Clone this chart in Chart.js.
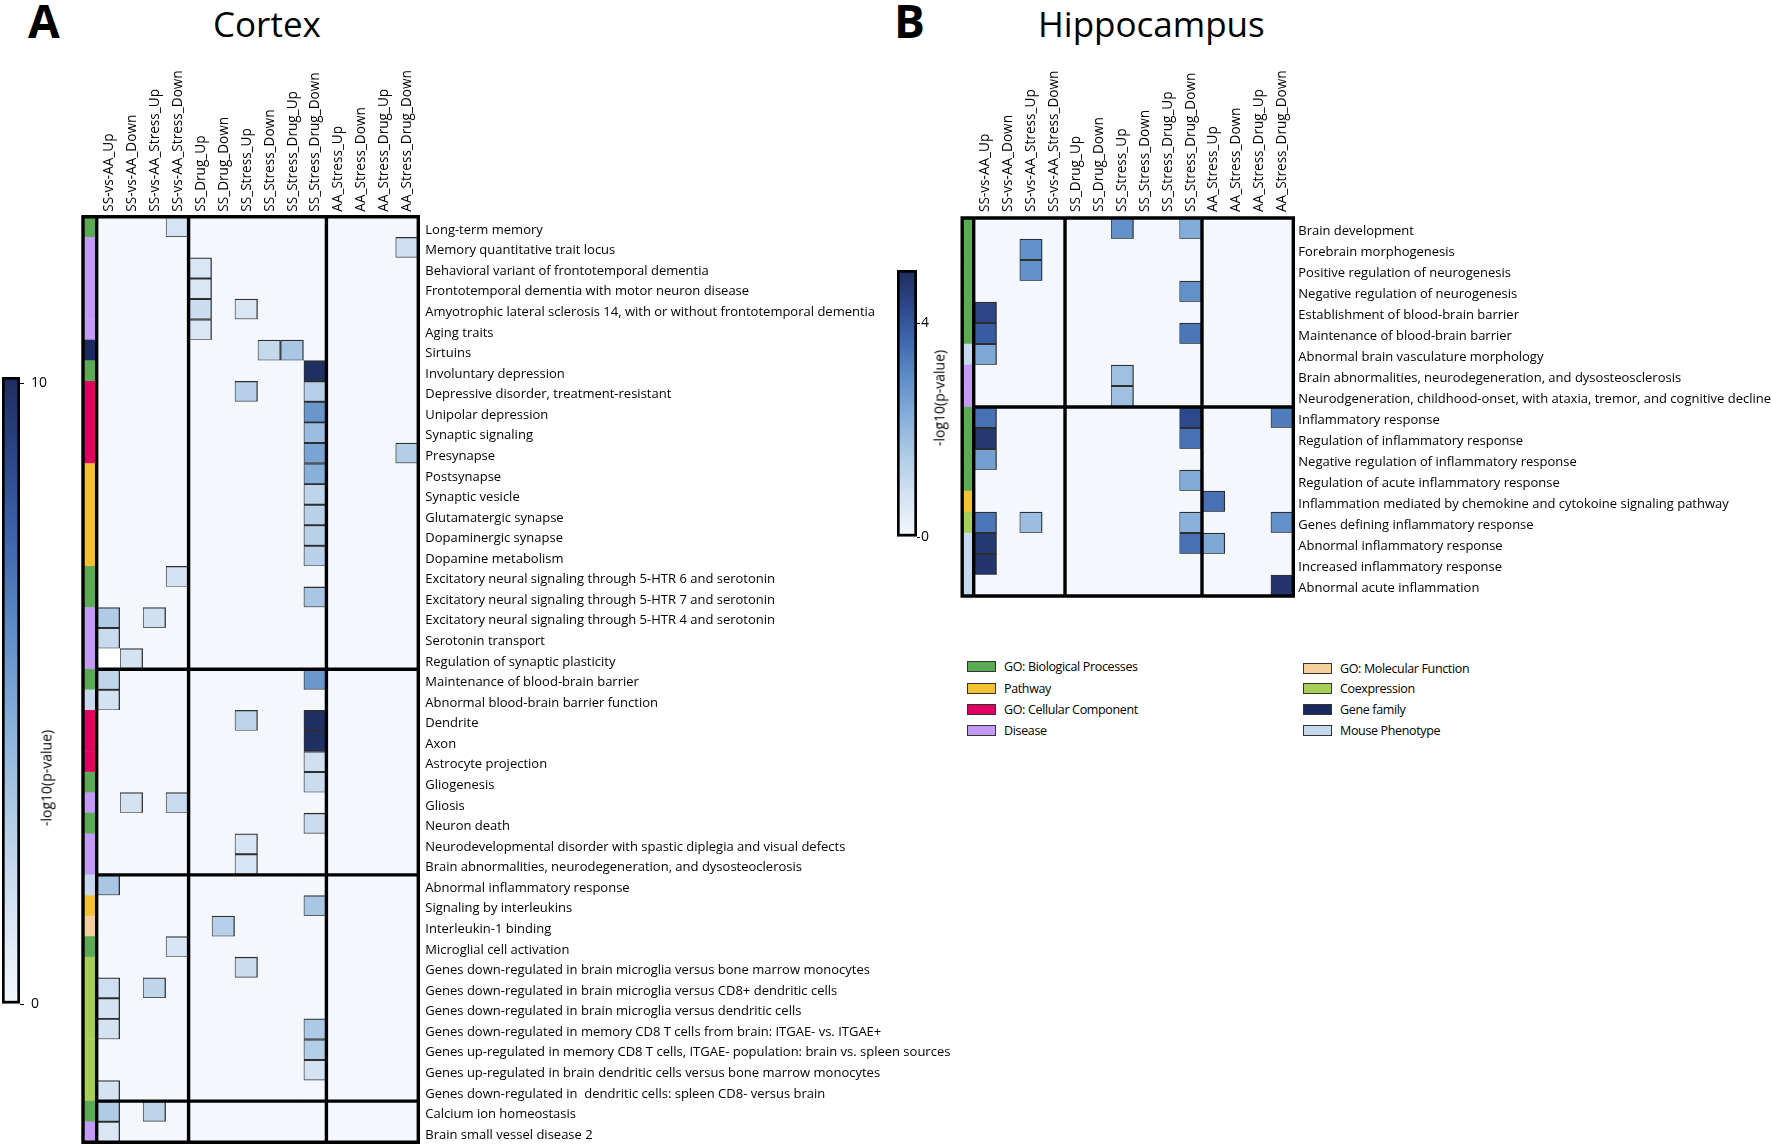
<!DOCTYPE html>
<html><head><meta charset="utf-8">
<script src="https://cdn.jsdelivr.net/npm/chart.js@4.4.1/dist/chart.umd.min.js"></script>
<style>
html,body{margin:0;padding:0;background:#fff;width:1772px;height:1147px;overflow:hidden;font-family:'Open Sans',sans-serif;color:#000;}
.abs{position:absolute;white-space:nowrap;}
canvas{position:absolute;}
.lg{position:absolute;height:16px;display:flex;align-items:center;font-size:12.5px;letter-spacing:-0.35px;white-space:nowrap;}
.lg span.box{display:inline-block;width:27px;height:9px;border:1.5px solid #333;margin-right:8px;}
.cbt{position:absolute;font-size:14px;white-space:nowrap;transform:translate(-50%,-50%) rotate(-90deg);}
</style></head><body>
<div class="abs" style="left:28px;top:-3px;font-size:46px;font-weight:700;line-height:1">A</div>
<div class="abs" style="left:213px;top:6px;font-size:35px;line-height:1">Cortex</div>
<div class="abs" style="left:894px;top:-3px;font-size:46px;font-weight:700;line-height:1">B</div>
<div class="abs" style="left:1038px;top:6px;font-size:35px;line-height:1">Hippocampus</div>

<canvas id="cortex" width="960" height="1147" style="left:0;top:0"></canvas>
<canvas id="hippo" width="832" height="640" style="left:940px;top:0"></canvas>
<canvas id="cbCortex" width="90" height="660" style="left:0;top:360px"></canvas>
<canvas id="cbHippo" width="80" height="310" style="left:880px;top:250px"></canvas>
<div class="cbt" style="left:46px;top:778px">-log10(p-value)</div>
<div class="cbt" style="left:939px;top:398px">-log10(p-value)</div>
<div id="legend"></div>

<script>
// ---------------- DATA ----------------
const columns = ['SS-vs-AA_Up','SS-vs-AA_Down','SS-vs-AA_Stress_Up','SS-vs-AA_Stress_Down',
  'SS_Drug_Up','SS_Drug_Down','SS_Stress_Up','SS_Stress_Down','SS_Stress_Drug_Up','SS_Stress_Drug_Down',
  'AA_Stress_Up','AA_Stress_Down','AA_Stress_Drug_Up','AA_Stress_Drug_Down'];

const categoryKeys   = ['BP','PW','CC','DIS','MF','CO','GF','MP'];
const categoryNames  = ['GO: Biological Processes','Pathway','GO: Cellular Component','Disease',
                        'GO: Molecular Function','Coexpression','Gene family','Mouse Phenotype'];
const categoryColors = ['#5aab53','#f2c230','#e0005f','#c39bf6','#f6cf9f','#a7cf57','#1b2a5e','#c6d9ef'];

const cortexTerms = [
 'Long-term memory','Memory quantitative trait locus','Behavioral variant of frontotemporal dementia',
 'Frontotemporal dementia with motor neuron disease','Amyotrophic lateral sclerosis 14, with or without frontotemporal dementia',
 'Aging traits','Sirtuins','Involuntary depression','Depressive disorder, treatment-resistant','Unipolar depression',
 'Synaptic signaling','Presynapse','Postsynapse','Synaptic vesicle','Glutamatergic synapse','Dopaminergic synapse',
 'Dopamine metabolism','Excitatory neural signaling through 5-HTR 6 and serotonin',
 'Excitatory neural signaling through 5-HTR 7 and serotonin','Excitatory neural signaling through 5-HTR 4 and serotonin',
 'Serotonin transport','Regulation of synaptic plasticity','Maintenance of blood-brain barrier',
 'Abnormal blood-brain barrier function','Dendrite','Axon','Astrocyte projection','Gliogenesis','Gliosis','Neuron death',
 'Neurodevelopmental disorder with spastic diplegia and visual defects',
 'Brain abnormalities, neurodegeneration, and dysosteoclerosis','Abnormal inflammatory response',
 'Signaling by interleukins','Interleukin-1 binding','Microglial cell activation',
 'Genes down-regulated in brain microglia versus bone marrow monocytes',
 'Genes down-regulated in brain microglia versus CD8+ dendritic cells',
 'Genes down-regulated in brain microglia versus dendritic cells',
 'Genes down-regulated in memory CD8 T cells from brain: ITGAE- vs. ITGAE+',
 'Genes up-regulated in memory CD8 T cells, ITGAE- population: brain vs. spleen sources',
 'Genes up-regulated in brain dendritic cells versus bone marrow monocytes',
 'Genes down-regulated in  dendritic cells: spleen CD8- versus brain',
 'Calcium ion homeostasis','Brain small vessel disease 2'];

const cortexCategory = ['BP','DIS','DIS','DIS','DIS','DIS','GF','BP','CC','CC','CC','CC',
 'PW','PW','PW','PW','PW','BP','BP','DIS','DIS','DIS','BP','MP','CC','CC','CC','BP','DIS','BP',
 'DIS','DIS','MP','PW','MF','BP','CO','CO','CO','CO','CO','CO','CO','BP','DIS'];

// -log10(p-value), columns in the order of `columns`; null = not tested (white)
const cortexValues = [
 [0,0,0,1.5,0,0,0,0,0,0,0,0,0,0],
 [0,0,0,0,0,0,0,0,0,0,0,0,0,1.8],
 [0,0,0,0,1.3,0,0,0,0,0,0,0,0,0],
 [0,0,0,0,1.3,0,0,0,0,0,0,0,0,0],
 [0,0,0,0,1.9,0,1.3,0,0,0,0,0,0,0],
 [0,0,0,0,1.3,0,0,0,0,0,0,0,0,0],
 [0,0,0,0,0,0,0,2.2,3.3,0,0,0,0,0],
 [0,0,0,0,0,0,0,0,0,10,0,0,0,0],
 [0,0,0,0,0,0,2.8,0,0,2.8,0,0,0,0],
 [0,0,0,0,0,0,0,0,0,5.6,0,0,0,0],
 [0,0,0,0,0,0,0,0,0,3.8,0,0,0,0],
 [0,0,0,0,0,0,0,0,0,5.0,0,0,0,2.9],
 [0,0,0,0,0,0,0,0,0,4.5,0,0,0,0],
 [0,0,0,0,0,0,0,0,0,2.5,0,0,0,0],
 [0,0,0,0,0,0,0,0,0,2.7,0,0,0,0],
 [0,0,0,0,0,0,0,0,0,2.7,0,0,0,0],
 [0,0,0,0,0,0,0,0,0,2.7,0,0,0,0],
 [0,0,0,1.6,0,0,0,0,0,0,0,0,0,0],
 [0,0,0,0,0,0,0,0,0,3.3,0,0,0,0],
 [3.1,0,1.7,0,0,0,0,0,0,0,0,0,0,0],
 [2.1,0,0,0,0,0,0,0,0,0,0,0,0,0],
 [null,1.6,0,0,0,0,0,0,0,0,0,0,0,0],
 [2.4,0,0,0,0,0,0,0,0,5.5,0,0,0,0],
 [1.6,0,0,0,0,0,0,0,0,0,0,0,0,0],
 [0,0,0,0,0,0,2.6,0,0,10,0,0,0,0],
 [0,0,0,0,0,0,0,0,0,10,0,0,0,0],
 [0,0,0,0,0,0,0,0,0,1.7,0,0,0,0],
 [0,0,0,0,0,0,0,0,0,2.0,0,0,0,0],
 [0,1.6,0,2.1,0,0,0,0,0,0,0,0,0,0],
 [0,0,0,0,0,0,0,0,0,2.0,0,0,0,0],
 [0,0,0,0,0,0,1.4,0,0,0,0,0,0,0],
 [0,0,0,0,0,0,1.4,0,0,0,0,0,0,0],
 [3.3,0,0,0,0,0,0,0,0,0,0,0,0,0],
 [0,0,0,0,0,0,0,0,0,3.3,0,0,0,0],
 [0,0,0,0,0,2.8,0,0,0,0,0,0,0,0],
 [0,0,0,1.4,0,0,0,0,0,0,0,0,0,0],
 [0,0,0,0,0,0,1.9,0,0,0,0,0,0,0],
 [1.8,0,2.4,0,0,0,0,0,0,0,0,0,0,0],
 [1.6,0,0,0,0,0,0,0,0,0,0,0,0,0],
 [1.6,0,0,0,0,0,0,0,0,3.2,0,0,0,0],
 [0,0,0,0,0,0,0,0,0,2.9,0,0,0,0],
 [0,0,0,0,0,0,0,0,0,1.6,0,0,0,0],
 [1.6,0,0,0,0,0,0,0,0,0,0,0,0,0],
 [3.1,0,2.6,0,0,0,0,0,0,0,0,0,0,0],
 [1.3,0,0,0,0,0,0,0,0,0,0,0,0,0]];
const cortexGroupEnds = [22, 32, 43];   // rows after which a thick separator is drawn
const cortexMax = 10.1;
const cortexBarTicks = [0, 10];

const hippoTerms = ['Brain development','Forebrain morphogenesis','Positive regulation of neurogenesis',
 'Negative regulation of neurogenesis','Establishment of blood-brain barrier','Maintenance of blood-brain barrier',
 'Abnormal brain vasculature morphology','Brain abnormalities, neurodegeneration, and dysosteosclerosis',
 'Neurodgeneration, childhood-onset, with ataxia, tremor, and cognitive decline','Inflammatory response',
 'Regulation of inflammatory response','Negative regulation of inflammatory response',
 'Regulation of acute inflammatory response','Inflammation mediated by chemokine and cytokoine signaling pathway',
 'Genes defining inflammatory response','Abnormal inflammatory response','Increased inflammatory response',
 'Abnormal acute inflammation'];
const hippoCategory = ['BP','BP','BP','BP','BP','BP','MP','DIS','DIS','BP','BP','BP','BP','PW','CO','MP','MP','MP'];
const hippoValues = [
 [0,0,0,0,0,0,2.9,0,0,2.3,0,0,0,0],
 [0,0,2.9,0,0,0,0,0,0,0,0,0,0,0],
 [0,0,2.9,0,0,0,0,0,0,0,0,0,0,0],
 [0,0,0,0,0,0,0,0,0,2.9,0,0,0,0],
 [4.4,0,0,0,0,0,0,0,0,0,0,0,0,0],
 [3.9,0,0,0,0,0,0,0,0,3.4,0,0,0,0],
 [2.4,0,0,0,0,0,0,0,0,0,0,0,0,0],
 [0,0,0,0,0,0,1.8,0,0,0,0,0,0,0],
 [0,0,0,0,0,0,1.8,0,0,0,0,0,0,0],
 [3.5,0,0,0,0,0,0,0,0,4.3,0,0,0,3.3],
 [4.75,0,0,0,0,0,0,0,0,3.5,0,0,0,0],
 [2.6,0,0,0,0,0,0,0,0,0,0,0,0,0],
 [0,0,0,0,0,0,0,0,0,2.35,0,0,0,0],
 [0,0,0,0,0,0,0,0,0,0,3.5,0,0,0],
 [3.4,0,1.85,0,0,0,0,0,0,2.2,0,0,0,2.9],
 [4.7,0,0,0,0,0,0,0,0,3.5,2.4,0,0,0],
 [4.8,0,0,0,0,0,0,0,0,0,0,0,0,0],
 [0,0,0,0,0,0,0,0,0,0,0,0,0,4.8]];
const hippoGroupEnds = [9];
const hippoMax = 5;
const hippoBarTicks = [0, 4];

const columnGroupEnds = [4, 10];

// ---------------- STYLE HELPERS ----------------
const BG = '#f4f8fd';
const rampStops = [[0,'#f4f8fd'],[0.15,'#d6e3f3'],[0.3,'#b1cce6'],[0.45,'#86afda'],
                   [0.6,'#5d8cc6'],[0.75,'#3c63ab'],[0.9,'#28407f'],[1,'#1f2d5f']];
function hex2rgb(h){return [1,3,5].map(i=>parseInt(h.substr(i,2),16));}
function rampColor(f){
  f=Math.max(0,Math.min(1,f));
  for(let i=1;i<rampStops.length;i++){
    if(f<=rampStops[i][0]){
      const [f0,c0]=rampStops[i-1],[f1,c1]=rampStops[i];
      const t=(f-f0)/(f1-f0), a=hex2rgb(c0), b=hex2rgb(c1);
      return 'rgb('+a.map((v,k)=>Math.round(v+(b[k]-v)*t)).join(',')+')';
    }
  }
  return rampStops[rampStops.length-1][1];
}
const catColor = k => categoryColors[categoryKeys.indexOf(k)];

Chart.defaults.font.family = "'Open Sans', sans-serif";
Chart.defaults.color = '#000';

const framePlugin = {
  id: 'frame',
  afterDatasetsDraw(chart, args, o) {
    const {ctx, chartArea: ca, scales: {x, y}} = chart;
    const n = chart.data.labels.length;
    ctx.save();
    ctx.strokeStyle = '#000'; ctx.lineWidth = o.lw; ctx.lineCap = 'square';
    const x0 = x.getPixelForValue(0), x14 = x.getPixelForValue(columns.length);
    const yt = y.getPixelForValue(-0.5), yb = y.getPixelForValue(n - 0.5);
    ctx.beginPath();
    ctx.rect(ca.left, yt, x14 - ca.left, yb - yt);
    ctx.moveTo(x0, yt); ctx.lineTo(x0, yb);
    columnGroupEnds.forEach(c => { const px = x.getPixelForValue(c); ctx.moveTo(px, yt); ctx.lineTo(px, yb); });
    o.rows.forEach(r => { const py = y.getPixelForValue(r - 0.5); ctx.moveTo(x0, py); ctx.lineTo(x14, py); });
    ctx.stroke();
    ctx.restore();
  }
};

function zeroPad(s) { s.paddingTop = 0; s.paddingBottom = 0; s.paddingLeft = 0; s.paddingRight = 0; }

function heatmap(id, cfg) {
  const datasets = [{
    label: 'category',
    data: cfg.terms.map(() => [cfg.stripFrom, cfg.stripTo]),
    backgroundColor: cfg.cats.map(catColor),
    borderWidth: 0, grouped: false, barPercentage: 1, categoryPercentage: 1
  }];
  columns.forEach((col, c) => {
    datasets.push({
      label: col,
      data: cfg.terms.map(() => [c, c + 1]),
      backgroundColor: cfg.values.map(r => r[c] === null ? '#ffffff' : (r[c] > 0 ? rampColor(r[c] / cfg.vmax) : BG)),
      borderColor: '#2e2e2e',
      borderWidth: cfg.values.map(r => (r[c] > 0 ? 1.3 : 0)),
      borderSkipped: false, grouped: false, barPercentage: 1, categoryPercentage: 1
    });
  });
  return new Chart(document.getElementById(id), {
    type: 'bar',
    data: { labels: cfg.terms, datasets },
    options: {
      indexAxis: 'y', responsive: false, animation: false, events: [],
      layout: { padding: cfg.padding },
      plugins: { legend: { display: false }, tooltip: { enabled: false }, frame: { lw: 3.4, rows: cfg.groupEnds } },
      scales: {
        x: {
          type: 'linear', position: 'top', min: cfg.xMin, max: columns.length,
          grid: { display: false, drawTicks: false }, border: { display: false },
          afterBuildTicks: s => { s.ticks = columns.map((_, i) => ({ value: i + 0.5 })); },
          afterFit: s => { s.height = cfg.topH; zeroPad(s); },
          ticks: { autoSkip: false, minRotation: 90, maxRotation: 90, padding: cfg.colPad,
                   labelOffset: cfg.colOffset, font: { size: 13.6 }, color: '#000',
                   callback: (v, i) => columns[i] }
        },
        y: {
          type: 'category', position: 'right', offset: true,
          grid: { display: false, drawTicks: false }, border: { display: false },
          afterFit: s => { s.width = cfg.rightW; zeroPad(s); },
          ticks: { autoSkip: false, padding: cfg.rowPad, labelOffset: cfg.rowOffset,
                   font: { size: 13 }, color: '#000' }
        }
      }
    },
    plugins: [framePlugin]
  });
}

heatmap('cortex', {
  terms: cortexTerms, cats: cortexCategory, values: cortexValues, vmax: cortexMax, groupEnds: cortexGroupEnds,
  xMin: -0.596, stripFrom: -0.55, stripTo: -0.07,
  padding: { left: 83, top: 60, right: 0, bottom: 4.7 }, topH: 156.7, rightW: 541.7,
  colPad: 5, colOffset: 17, rowPad: 7, rowOffset: 3
});
heatmap('hippo', {
  terms: hippoTerms, cats: hippoCategory, values: hippoValues, vmax: hippoMax, groupEnds: hippoGroupEnds,
  xMin: -0.504, stripFrom: -0.43, stripTo: -0.09,
  padding: { left: 22.2, top: 60, right: 0, bottom: 44 }, topH: 158, rightW: 478.7,
  colPad: 6, colOffset: 16.5, rowPad: 5, rowOffset: 2.5
});

function colorbar(id, vmax, ticks, pad, rightW, tickLen, tickPad) {
  new Chart(document.getElementById(id), {
    type: 'bar',
    data: { labels: [''], datasets: [{
      data: [[0, vmax]],
      backgroundColor: c => {
        const ch = c.chart, ca = ch.chartArea;
        if (!ca || !isFinite(ca.top) || !isFinite(ca.bottom)) return BG;
        const g = ch.ctx.createLinearGradient(0, ca.bottom, 0, ca.top);
        rampStops.forEach(([f, col]) => g.addColorStop(f, col));
        return g;
      },
      borderColor: '#000', borderWidth: 3, borderSkipped: false,
      barPercentage: 1, categoryPercentage: 1
    }]},
    options: {
      responsive: false, animation: false, events: [],
      layout: { padding: pad },
      plugins: { legend: { display: false }, tooltip: { enabled: false } },
      scales: {
        x: { display: false },
        y: { position: 'right', min: 0, max: vmax,
             afterBuildTicks: s => { s.ticks = ticks.map(v => ({ value: v })); },
             afterFit: s => { s.width = rightW; zeroPad(s); },
             grid: { drawOnChartArea: false, drawTicks: true, tickLength: tickLen, color: '#000' },
             border: { display: false },
             ticks: { font: { size: 14 }, color: '#000', padding: tickPad } }
      }
    }
  });
}
colorbar('cbCortex', cortexMax, cortexBarTicks, { left: 2, top: 17, right: 0, bottom: 16 }, 70, 4, 7);
colorbar('cbHippo', hippoMax, hippoBarTicks, { left: 17, top: 20, right: 0, bottom: 23 }, 43, 3, 1);

// legend (HTML, real text)
const legendPos = [[967,666],[967,688],[967,709],[967,730],[1303,668],[1303,688],[1303,709],[1303,730]];
const lg = document.getElementById('legend');
categoryNames.forEach((name, i) => {
  const d = document.createElement('div');
  d.className = 'lg';
  d.style.left = legendPos[i][0] + 'px';
  d.style.top = (legendPos[i][1] - 8) + 'px';
  d.innerHTML = '<span class="box" style="background:' + categoryColors[i] + '"></span>';
  d.appendChild(document.createTextNode(name));
  lg.appendChild(d);
});
</script>
</body></html>
